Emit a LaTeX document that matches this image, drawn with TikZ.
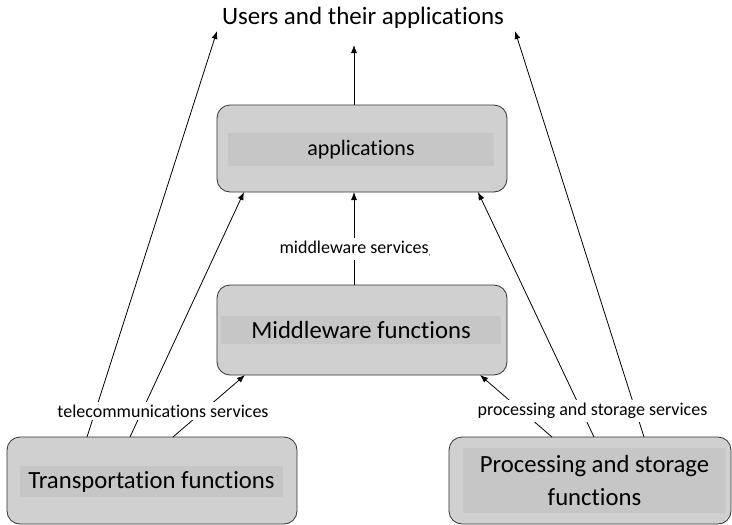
\documentclass[tikz,border=0pt]{standalone}
\usepackage{fontspec}
\setmainfont[RawFeature={-liga;-clig}]{Carlito}
\usetikzlibrary{arrows.meta}
\definecolor{boxgray}{RGB}{208,208,208}
\definecolor{ingray}{RGB}{198,198,198}
\begin{document}
\begin{tikzpicture}[x=1pt,y=-1pt,
  box/.style={draw=black!80, fill=boxgray, rounded corners=13pt, line width=0.8pt, inner sep=0pt},
  inbox/.style={fill=ingray, inner sep=0pt, align=center},
  boxtext/.style={font=\fontsize{24.7}{33}\selectfont},
  svc/.style={fill=white, inner sep=3pt, font=\fontsize{18}{22}\selectfont},
  arr/.style={-{Latex[length=8pt,width=6pt]}, line width=0.8pt}]
\useasboundingbox (0,0) rectangle (732,525);
\node[font=\fontsize{25}{30}\selectfont] (users) at (363,18) {Users and their applications};
\node[box, minimum width=290pt, minimum height=87pt] (apps) at (362,148.5) {};
\node[inbox, minimum width=266pt, minimum height=33pt, font=\fontsize{22}{26}\selectfont] (appsin) at (361,149.5) {applications};
\node[box, minimum width=290pt, minimum height=90pt] (mid) at (362,330) {};
\node[inbox, boxtext, minimum width=280pt, minimum height=28pt] (midin) at (361,330) {Middleware functions};
\node[box, minimum width=290pt, minimum height=87pt] (trans) at (152,480.5) {};
\node[inbox, boxtext, minimum width=263pt, minimum height=31pt] (transin) at (151.5,481.5) {Transportation functions};
\node[box, minimum width=282pt, minimum height=87pt] (proc) at (590,480.5) {};
\node[inbox, boxtext, minimum width=263pt, minimum height=65pt] (procin) at (594.5,480.5) {Processing and storage\\functions};
\coordinate (t1) at (87,437);
\coordinate (t2) at (130,437);
\coordinate (t3) at (173,437);
\coordinate (p1) at (552,437);
\coordinate (p2) at (594,437);
\coordinate (p3) at (644,437);
\coordinate (ua) at (217,31);
\coordinate (ub) at (354,45);
\coordinate (uc) at (515,31);
\coordinate (a1) at (244,192);
\coordinate (a2) at (354,192);
\coordinate (a3) at (478,192);
\coordinate (at) at (354,105);
\coordinate (mt) at (354,285);
\coordinate (m1) at (245,375);
\coordinate (m3) at (480,375);
\draw[arr] (t1) -- (ua);
\draw[arr] (t2) -- (a1);
\draw[arr] (t3) -- (m1);
\draw[arr] (p1) -- (m3);
\draw[arr] (p2) -- (a3);
\draw[arr] (p3) -- (uc);
\draw[arr] (mt) -- (a2);
\draw[arr] (at) -- (ub);
\node[svc] (tel) at (163,411) {telecommunications services};
\node[svc] (pss) at (592.5,411) {processing and storage services};
\node[svc] (mws) at (355,249) {middleware services\raisebox{-2pt}{\scriptsize,}};
\end{tikzpicture}
\end{document}
